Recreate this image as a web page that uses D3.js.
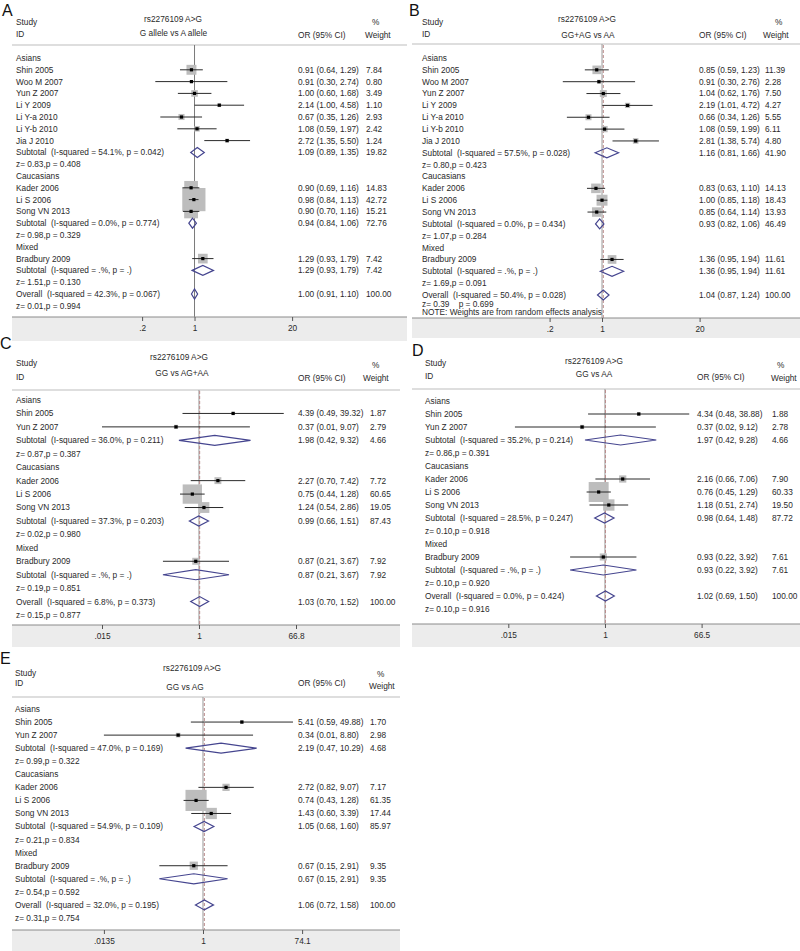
<!DOCTYPE html>
<html><head><meta charset="utf-8">
<script src="https://cdn.jsdelivr.net/npm/d3@7"></script>
<style>
body{margin:0;background:#fff}
svg{display:block}
text{font-family:"Liberation Sans",Arial,sans-serif}
</style>
</head><body>
<svg id="c" width="800" height="951"></svg>
<script>
// ---------------- DATA ----------------
const groups = ["Asians", "Caucasians", "Mixed"];
const snpLabel = "rs2276109 A>G";

const studiesAB = ["Shin 2005","Woo M 2007","Yun Z 2007","Li Y 2009","Li Y-a 2010","Li Y-b 2010","Jia J 2010","Kader 2006","Li S 2006","Song VN 2013","Bradbury 2009"];
const groupAB = [0,0,0,0,0,0,0,1,1,1,2];
const studiesCDE = ["Shin 2005","Yun Z 2007","Kader 2006","Li S 2006","Song VN 2013","Bradbury 2009"];
const groupCDE = [0,0,1,1,1,2];

// Panel A: G allele vs A allele
const titleA = "G allele vs A allele";
const orA = [0.91,0.91,1.00,2.14,0.67,1.08,2.72,0.90,0.98,0.90,1.29];
const loA = [0.64,0.30,0.60,1.00,0.35,0.59,1.35,0.69,0.84,0.70,0.93];
const hiA = [1.29,2.74,1.68,4.58,1.26,1.97,5.50,1.16,1.13,1.16,1.79];
const wA  = [7.84,0.80,3.49,1.10,2.93,2.42,1.24,14.83,42.72,15.21,7.42];
const subOrA = [1.09,0.94,1.29,1.00];
const subLoA = [0.89,0.84,0.93,0.91];
const subHiA = [1.35,1.06,1.79,1.10];
const subWA  = [19.82,72.76,7.42,100.00];
const hetA = ["54.1%, p = 0.042","0.0%, p = 0.774",".%, p = .","42.3%, p = 0.067"];
const zA = ["z= 0.83,p = 0.408","z= 0.98,p = 0.329","z= 1.51,p = 0.130","z= 0.01,p = 0.994"];
const ticksA = [0.2, 1, 20];
const tickLabelsA = [".2","1","20"];

// Panel B: GG+AG vs AA
const titleB = "GG+AG vs AA";
const orB = [0.85,0.91,1.04,2.19,0.66,1.08,2.81,0.83,1.00,0.85,1.36];
const loB = [0.59,0.30,0.62,1.01,0.34,0.59,1.38,0.63,0.85,0.64,0.95];
const hiB = [1.23,2.76,1.76,4.72,1.26,1.99,5.74,1.10,1.18,1.14,1.94];
const wB  = [11.39,2.28,7.50,4.27,5.55,6.11,4.80,14.13,18.43,13.93,11.61];
const subOrB = [1.16,0.93,1.36,1.04];
const subLoB = [0.81,0.82,0.95,0.87];
const subHiB = [1.66,1.06,1.94,1.24];
const subWB  = [41.90,46.49,11.61,100.00];
const hetB = ["57.5%, p = 0.028","0.0%, p = 0.434",".%, p = .","50.4%, p = 0.028"];
const zB = ["z= 0.80,p = 0.423","z= 1.07,p = 0.284","z= 1.69,p = 0.091","z= 0.39    p = 0.699"];
const noteB = "NOTE: Weights are from random effects analysis";
const ticksB = [0.2, 1, 20];
const tickLabelsB = [".2","1","20"];

// Panel C: GG vs AG+AA
const titleC = "GG vs AG+AA";
const orC = [4.39,0.37,2.27,0.75,1.24,0.87];
const loC = [0.49,0.01,0.70,0.44,0.54,0.21];
const hiC = [39.32,9.07,7.42,1.28,2.86,3.67];
const wC  = [1.87,2.79,7.72,60.65,19.05,7.92];
const subOrC = [1.98,0.99,0.87,1.03];
const subLoC = [0.42,0.66,0.21,0.70];
const subHiC = [9.32,1.51,3.67,1.52];
const subWC  = [4.66,87.43,7.92,100.00];
const hetC = ["36.0%, p = 0.211","37.3%, p = 0.203",".%, p = .","6.8%, p = 0.373"];
const zC = ["z= 0.87,p = 0.387","z= 0.02,p = 0.980","z= 0.19,p = 0.851","z= 0.15,p = 0.877"];
const ticksC = [0.015, 1, 66.8];
const tickLabelsC = [".015","1","66.8"];

// Panel D: GG vs AA
const titleD = "GG vs AA";
const orD = [4.34,0.37,2.16,0.76,1.18,0.93];
const loD = [0.48,0.02,0.66,0.45,0.51,0.22];
const hiD = [38.88,9.12,7.06,1.29,2.74,3.92];
const wD  = [1.88,2.78,7.90,60.33,19.50,7.61];
const subOrD = [1.97,0.98,0.93,1.02];
const subLoD = [0.42,0.64,0.22,0.69];
const subHiD = [9.28,1.48,3.92,1.50];
const subWD  = [4.66,87.72,7.61,100.00];
const hetD = ["35.2%, p = 0.214","28.5%, p = 0.247",".%, p = .","0.0%, p = 0.424"];
const zD = ["z= 0.86,p = 0.391","z= 0.10,p = 0.918","z= 0.10,p = 0.920","z= 0.10,p = 0.916"];
const ticksD = [0.015, 1, 66.5];
const tickLabelsD = [".015","1","66.5"];

// Panel E: GG vs AG
const titleE = "GG vs AG";
const orE = [5.41,0.34,2.72,0.74,1.43,0.67];
const loE = [0.59,0.01,0.82,0.43,0.60,0.15];
const hiE = [49.88,8.80,9.07,1.28,3.39,2.91];
const wE  = [1.70,2.98,7.17,61.35,17.44,9.35];
const subOrE = [2.19,1.05,0.67,1.06];
const subLoE = [0.47,0.68,0.15,0.72];
const subHiE = [10.29,1.60,2.91,1.58];
const subWE  = [4.68,85.97,9.35,100.00];
const hetE = ["47.0%, p = 0.169","54.9%, p = 0.109",".%, p = .","32.0%, p = 0.195"];
const zE = ["z= 0.99,p = 0.322","z= 0.21,p = 0.834","z= 0.54,p = 0.592","z= 0.31,p = 0.754"];
const ticksE = [0.0135, 1, 74.1];
const tickLabelsE = [".0135","1","74.1"];

// ---------------- LAYOUT ----------------
const layouts = {
  A: {x0:12,x1:407,letterX:2,letterY:10,headY:45,y0:58,step:11.8,axisY:317,bandB:341,
      studyY:22,idY:34,rsY:19,subY:33,orY:35,pctY:22,wY:35,dashed:false,
      labelX:16,orX:298,wX:366,wHeadX:365,pctX:372,rsX:173,subX:173.5,range:[142.1,292.1],k:3.55},
  B: {x0:412,x1:800,letterX:409,letterY:10,headY:44,y0:58,step:11.85,tailStep:8.7,axisY:318,bandB:338,
      studyY:22,idY:34,rsY:19,subY:35,orY:35,pctY:22,wY:35,dashed:true,
      labelX:422,orX:699,wX:765,wHeadX:763,pctX:775,rsX:587,subX:588,range:[549.6,699.6],k:2.55},
  C: {x0:12,x1:400,letterX:0,letterY:343,headY:390,y0:400,step:13.44,axisY:625,bandB:647,
      studyY:363,idY:377,rsY:357,subY:373,orY:378,pctY:365,wY:378,dashed:true,
      labelX:16,orX:298,wX:370,wHeadX:363,pctX:372,rsX:179,subX:182,range:[102,296],k:2.48},
  D: {x0:412,x1:800,letterX:412,letterY:350,headY:389,y0:401,step:13.0,axisY:624,bandB:647,
      studyY:363,idY:376,rsY:361,subY:374,orY:377,pctY:365,wY:378,dashed:true,
      labelX:425,orX:697,wX:772,wHeadX:771,pctX:777,rsX:594,subX:594,range:[508.3,701.6],k:2.57},
  E: {x0:12,x1:400,letterX:0,letterY:658,headY:697,y0:709,step:13.06,axisY:930,bandB:951,
      studyY:673,idY:683,rsY:668,subY:687,orY:683,pctY:674,wY:686,dashed:true,
      labelX:15,orX:298,wX:370,wHeadX:369,pctX:377,rsX:192,subX:185,range:[103.9,302.1],k:2.7}
};

const svg = d3.select("#c");
const FS = 8.3;
const TXT = "#2a2a2a";
const fmt = v => v.toFixed(2);

function buildRows(names, grp, or, lo, hi, w, sOr, sLo, sHi, sW, het, zs, note) {
  const rows = [];
  groups.forEach((gname, gi) => {
    rows.push({type:"group", label:gname});
    names.forEach((n, i) => {
      if (grp[i] === gi) rows.push({type:"study", label:n, or:or[i], lo:lo[i], hi:hi[i], w:w[i]});
    });
    rows.push({type:"sub", label:"Subtotal  (I-squared = " + het[gi] + ")", or:sOr[gi], lo:sLo[gi], hi:sHi[gi], w:sW[gi]});
    rows.push({type:"z", label:zs[gi]});
  });
  rows.push({type:"sub", overall:true, label:"Overall  (I-squared = " + het[3] + ")", or:sOr[3], lo:sLo[3], hi:sHi[3], w:sW[3]});
  rows.push({type:"z", tail:true, label:zs[3]});
  if (note) rows.push({type:"note", tail:true, label:note});
  return rows;
}

function txt(g, x, y, s, anchor, size) {
  return g.append("text").attr("x", x).attr("y", y).attr("dy", "0.35em")
    .attr("font-size", size || FS).attr("fill", TXT)
    .attr("text-anchor", anchor || "start").style("white-space", "pre").text(s);
}

function drawPanel(letter, title, rows, ticks, tickLabels, L) {
  const g = svg.append("g");
  // axis band
  g.append("rect").attr("x", L.x0).attr("y", L.axisY).attr("width", L.x1 - L.x0)
    .attr("height", L.bandB - L.axisY).attr("fill", "#ececec");
  // header separator
  g.append("line").attr("x1", L.x0).attr("x2", L.x1).attr("y1", L.headY).attr("y2", L.headY)
    .attr("stroke", "#dedede").attr("stroke-width", 2);

  const x = d3.scaleLog().domain([ticks[0], ticks[2]]).range(L.range).clamp(true);

  // letter
  g.append("text").attr("x", L.letterX).attr("y", L.letterY).attr("dy", "0.36em")
    .attr("font-size", 16).attr("fill", "#111").text(letter);
  // headers
  txt(g, L.labelX, L.studyY, "Study");
  txt(g, L.labelX, L.idY, "ID");
  txt(g, L.rsX, L.rsY, snpLabel, "middle");
  txt(g, L.subX, L.subY, title, "middle");
  txt(g, L.orX, L.orY, "OR (95% CI)");
  txt(g, L.pctX, L.pctY, "%");
  txt(g, L.wHeadX, L.wY, "Weight");

  // y positions
  let yPrev = 0;
  rows.forEach((r, i) => {
    if (r.tail && L.tailStep) r.y = yPrev + L.tailStep;
    else r.y = L.y0 + i * L.step;
    yPrev = r.y;
  });
  const overall = rows.find(r => r.overall);

  // reference lines
  g.append("line").attr("x1", x(1)).attr("x2", x(1)).attr("y1", L.headY).attr("y2", L.axisY)
    .attr("stroke", L.dashed ? "#9a9a9a" : "#7a7a7a").attr("stroke-width", 1);
  if (L.dashed) {
    g.append("line").attr("x1", x(overall.or)).attr("x2", x(overall.or)).attr("y1", L.headY + 1).attr("y2", L.axisY)
      .attr("stroke", "#b98a8a").attr("stroke-width", 1).attr("stroke-dasharray", "3,2");
  }

  const studies = rows.filter(r => r.type === "study");
  // weight boxes
  g.selectAll("rect.box").data(studies).join("rect").attr("class", "box")
    .attr("x", d => x(d.or) - L.k * Math.sqrt(d.w) / 2)
    .attr("y", d => d.y - L.k * Math.sqrt(d.w) / 2)
    .attr("width", d => L.k * Math.sqrt(d.w))
    .attr("height", d => L.k * Math.sqrt(d.w))
    .attr("fill", "#bdbdbd");
  // CI lines
  g.selectAll("line.ci").data(studies).join("line").attr("class", "ci")
    .attr("x1", d => x(d.lo)).attr("x2", d => x(d.hi))
    .attr("y1", d => d.y).attr("y2", d => d.y)
    .attr("stroke", "#2b2b2b").attr("stroke-width", 1);
  // point estimates
  g.selectAll("rect.pt").data(studies).join("rect").attr("class", "pt")
    .attr("x", d => x(d.or) - 1.6).attr("y", d => d.y - 1.6)
    .attr("width", 3.2).attr("height", 3.2).attr("fill", "#000");
  // diamonds
  const subs = rows.filter(r => r.type === "sub");
  g.selectAll("path.dia").data(subs).join("path").attr("class", "dia")
    .attr("d", d => `M${x(d.lo)},${d.y}L${x(d.or)},${d.y - 5}L${x(d.hi)},${d.y}L${x(d.or)},${d.y + 5}Z`)
    .attr("fill", "none").attr("stroke", "#45458f").attr("stroke-width", 1.2);

  // texts
  rows.forEach(r => {
    txt(g, L.labelX, r.y, r.label);
    if (r.type === "study" || r.type === "sub") {
      txt(g, L.orX, r.y, `${fmt(r.or)} (${fmt(r.lo)}, ${fmt(r.hi)})`);
      txt(g, L.wX, r.y, fmt(r.w));
    }
  });

  // axis
  g.append("line").attr("x1", L.x0).attr("x2", L.x1).attr("y1", L.axisY).attr("y2", L.axisY)
    .attr("stroke", "#8a8a8a").attr("stroke-width", 1);
  const ax = g.append("g").attr("transform", `translate(0,${L.axisY})`)
    .call(d3.axisBottom(x).tickValues(ticks).tickFormat((v, i) => tickLabels[i]).tickSize(4).tickPadding(4));
  ax.select(".domain").remove();
  ax.selectAll(".tick line").attr("stroke", "#555");
  ax.selectAll(".tick text").attr("font-size", FS).attr("fill", TXT)
    .attr("font-family", "Liberation Sans, Arial, sans-serif");
}

drawPanel("A", titleA, buildRows(studiesAB, groupAB, orA, loA, hiA, wA, subOrA, subLoA, subHiA, subWA, hetA, zA), ticksA, tickLabelsA, layouts.A);
drawPanel("B", titleB, buildRows(studiesAB, groupAB, orB, loB, hiB, wB, subOrB, subLoB, subHiB, subWB, hetB, zB, noteB), ticksB, tickLabelsB, layouts.B);
drawPanel("C", titleC, buildRows(studiesCDE, groupCDE, orC, loC, hiC, wC, subOrC, subLoC, subHiC, subWC, hetC, zC), ticksC, tickLabelsC, layouts.C);
drawPanel("D", titleD, buildRows(studiesCDE, groupCDE, orD, loD, hiD, wD, subOrD, subLoD, subHiD, subWD, hetD, zD), ticksD, tickLabelsD, layouts.D);
drawPanel("E", titleE, buildRows(studiesCDE, groupCDE, orE, loE, hiE, wE, subOrE, subLoE, subHiE, subWE, hetE, zE), ticksE, tickLabelsE, layouts.E);
</script>
</body></html>
